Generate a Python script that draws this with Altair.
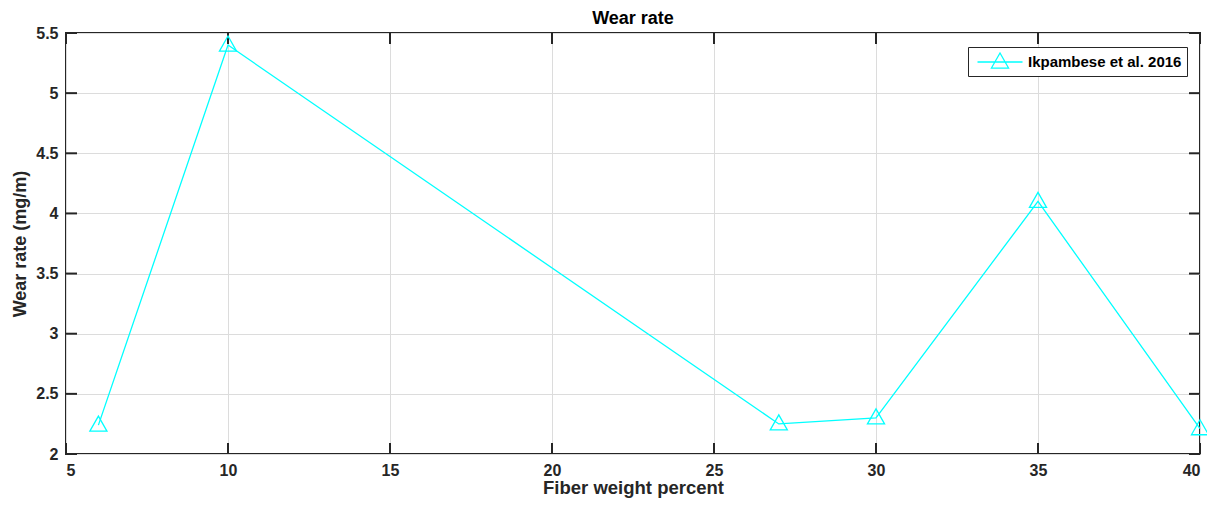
import altair as alt
import pandas as pd

# ---- data ----
fiber_pct = [6, 10, 27, 30, 35, 40]
wear_rate = [2.24, 5.4, 2.25, 2.3, 4.1, 2.21]
series_name = "Ikpambese et al. 2016"
x_ticks = [5, 10, 15, 20, 25, 30, 35, 40]
y_ticks = [2, 2.5, 3, 3.5, 4, 4.5, 5, 5.5]

df = pd.DataFrame({"x": fiber_pct, "y": wear_rate,
                   "series": [series_name] * len(fiber_pct)})
xt = pd.DataFrame({"x": x_ticks})
yt = pd.DataFrame({"y": y_ticks})

W, H = 1134, 421
TICK = 11
DARK = "#262626"
CYAN = "#00ffff"
FONT = "Liberation Sans"

xs = alt.Scale(domain=[5, 40], nice=False, zero=False)
ys = alt.Scale(domain=[2, 5.5], nice=False, zero=False)

tri = "M0,-1L0.95,0.67L-0.95,0.67Z"
leg_sym = "M-2.5,0H2.5M0,-1L0.95,0.67L-0.95,0.67Z"

color = alt.Color(
    "series:N",
    scale=alt.Scale(range=[CYAN]),
    legend=alt.Legend(
        title=None, orient="none", legendX=902, legendY=14,
        symbolType=leg_sym, symbolSize=324, symbolStrokeWidth=1.3,
        symbolFillColor="transparent", symbolStrokeColor=CYAN,
        symbolOffset=17, labelOffset=18,
        labelFont=FONT, labelFontSize=15, labelFontWeight="bold",
        labelColor="#000000", strokeColor=DARK, fillColor="white",
        padding=5,
    ),
)

x_enc = alt.X("x:Q", scale=xs,
              axis=alt.Axis(values=x_ticks, format="d", title="Fiber weight percent",
                            labelPadding=8, titlePadding=0, titleFontSize=18.5))
y_enc = alt.Y("y:Q", scale=ys,
              axis=alt.Axis(values=y_ticks, format=".1~f", title="Wear rate (mg/m)",
                            labelPadding=8, titlePadding=6))

base = alt.Chart(df)
line = base.mark_line(strokeWidth=1.3, color=CYAN).encode(x=x_enc, y=y_enc, color=color)
pts = base.mark_point(shape=tri, size=324, filled=False, strokeWidth=1.3, opacity=1).encode(
    x=alt.X("x:Q", scale=xs), y=alt.Y("y:Q", scale=ys), color=color)

tick_style = dict(color=DARK, strokeWidth=2)
xb = alt.Chart(xt).mark_rule(**tick_style).encode(
    x=alt.X("x:Q", scale=xs), y=alt.value(H), y2=alt.value(H - TICK))
xtop = alt.Chart(xt).mark_rule(**tick_style).encode(
    x=alt.X("x:Q", scale=xs), y=alt.value(0), y2=alt.value(TICK))
yl = alt.Chart(yt).mark_rule(**tick_style).encode(
    y=alt.Y("y:Q", scale=ys), x=alt.value(0), x2=alt.value(TICK))
yr = alt.Chart(yt).mark_rule(**tick_style).encode(
    y=alt.Y("y:Q", scale=ys), x=alt.value(W), x2=alt.value(W - TICK))

chart = (
    alt.layer(line, xb, xtop, yl, yr, pts)
    .properties(
        width=W, height=H,
        background="white",
        title=alt.TitleParams("Wear rate", font=FONT, fontSize=18, fontWeight="bold",
                              color="#000000", anchor="middle", offset=-3),
        autosize=alt.AutoSizeParams(type="none"),
        padding={"left": 58, "top": 25, "right": 7, "bottom": 44},
    )
    .configure_view(stroke=DARK, strokeWidth=2)
    .configure_axis(
        domain=False, ticks=False, grid=True, gridColor="#dcdcdc", gridWidth=1,
        labelFont=FONT, labelFontSize=16, labelFontWeight="bold", labelColor=DARK,
        titleFont=FONT, titleFontSize=18, titleFontWeight="bold", titleColor=DARK,
    )
)

chart.save("out.html", embed_options={"renderer": "svg", "actions": False})
